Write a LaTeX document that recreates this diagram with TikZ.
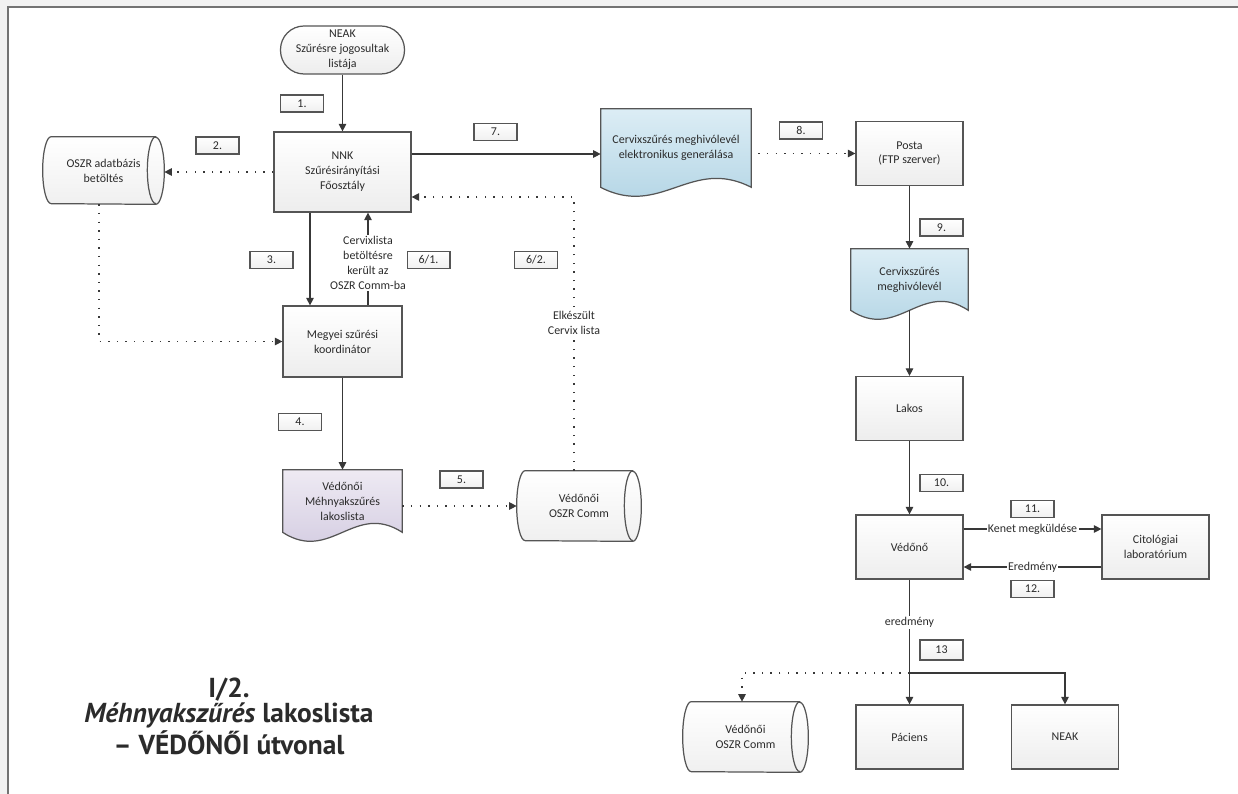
\documentclass[tikz,border=0pt]{standalone}
\usepackage{fontspec}
\setmainfont{Carlito}
\newfontfamily\titlefont{PT Sans}
\usetikzlibrary{arrows.meta,calc,backgrounds}

\definecolor{txt}{HTML}{2B2B2B}
\definecolor{edge}{HTML}{555555}
\definecolor{docblueA}{HTML}{DCEDF5}
\definecolor{docblueB}{HTML}{AED2E3}
\definecolor{doclilaA}{HTML}{EEEAF3}
\definecolor{doclilaB}{HTML}{D0C8DF}

\tikzset{
  every node/.style={font=\fontsize{6.8}{8.5}\selectfont, text=txt},
  proc/.style={draw=edge, line width=0.7pt, top color=white, bottom color=black!7,
    minimum width=2.14cm, minimum height=1.28cm, align=center, inner sep=1pt},
  term/.style={proc, rounded corners=0.47cm, minimum width=2.48cm, minimum height=0.96cm},
  stepno/.style={draw=edge, line width=0.6pt, top color=white, bottom color=black!6,
    minimum width=0.86cm, minimum height=0.34cm, inner sep=0pt},
  docbox/.style={align=center, inner sep=1pt},
  dbbox/.style={align=center, inner sep=1pt},
  shapeline/.style={draw=edge, line width=0.7pt},
  flow/.style={draw=black!78, line width=0.6pt, -{Triangle[length=0.15cm,width=0.15cm]}},
  dotflow/.style={flow, dash pattern=on 0.8pt off 4.1pt},
  lbl/.style={fill=white, inner sep=0.8pt, align=center}
}

% horizontal cylinder drawn round a named node: node, end radius, half height
\newcommand{\dbshape}[3]{%
  \draw[shapeline, top color=white, bottom color=black!6]
    ([xshift=-#2]#1.north east) -- ([xshift=#2]#1.north west)
    arc[start angle=90, end angle=270, x radius=#2, y radius=#3]
    -- ([xshift=-#2]#1.south east)
    arc[start angle=-90, end angle=90, x radius=#2, y radius=#3] -- cycle;
  \draw[shapeline] ([xshift=-#2]#1.north east)
    arc[start angle=90, end angle=270, x radius=#2, y radius=#3];}

% document with a wavy lower edge: node, top colour, bottom colour
\newcommand{\docshape}[3]{%
  \draw[shapeline, top color=#2, bottom color=#3]
    (#1.north west) -- (#1.north east) -- (#1.south east)
    .. controls ($(#1.south east)!0.4!(#1.south west)+(0,-31)$)
    and ($(#1.south west)!0.4!(#1.south east)+(0,31)$) .. (#1.south west) -- cycle;}

\begin{document}
\begin{tikzpicture}[x=0.02cm,y=-0.02cm]
\useasboundingbox (0,0) rectangle (1238,794);

% left column
\node[term] (neaktop) at (342.5,50) {NEAK\\Szűrésre jogosultak\\listája};
\node[proc, minimum width=2.74cm, minimum height=1.6cm] (nnk) at (342.5,172) {NNK\\Szűrésirányítási\\Főosztály};
\node[dbbox, minimum width=2.42cm, minimum height=1.34cm] (oszr) at (103.5,170.5) {OSZR adatbázis\\betöltés};
\node[proc, minimum width=2.38cm, minimum height=1.42cm] (megyei) at (342.5,341.5) {Megyei szűrési\\koordinátor};
\node[docbox, minimum width=2.38cm, minimum height=1.24cm] (lakoslista) at (342.5,501) {Védőnői\\Méhnyakszűrés\\lakoslista};
\node[dbbox, minimum width=2.48cm, minimum height=1.4cm] (commmid) at (579,506) {Védőnői\\OSZR Comm};

% right column
\node[docbox, minimum width=3cm, minimum height=1.56cm] (gen) at (676,148) {Cervixszűrés meghivólevél\\elektronikus generálása};
\node[proc] (posta) at (909.5,153.5) {Posta\\(FTP szerver)};
\node[docbox, minimum width=2.34cm, minimum height=1.22cm] (level) at (909.5,279.5) {Cervixszűrés\\meghivólevél};
\node[proc] (lakos) at (909.5,408.5) {Lakos};
\node[proc] (vedono) at (909.5,547) {Védőnő};
\node[proc] (cito) at (1155.5,547) {Citológiai\\laboratórium};
\node[proc] (paciens) at (909.5,737) {Páciens};
\node[proc] (neakbot) at (1065,737) {NEAK};
\node[dbbox, minimum width=2.5cm, minimum height=1.4cm] (commbot) at (745.5,737) {Védőnői\\OSZR Comm};

% step numbers
\node[stepno] (s1) at (302,103.5) {1.};
\node[stepno] (s2) at (217.5,145.5) {2.};
\node[stepno] (s3) at (271.5,260) {3.};
\node[stepno] (s4) at (300,422) {4.};
\node[stepno] (s5) at (461.5,479.5) {5.};
\node[stepno] (s61) at (428.5,260) {6/1.};
\node[stepno] (s62) at (536,260) {6/2.};
\node[stepno] (s7) at (495.5,132) {7.};
\node[stepno] (s8) at (801,130.5) {8.};
\node[stepno] (s9) at (941.5,227.5) {9.};
\node[stepno] (s10) at (941.5,483) {10.};
\node[stepno] (s11) at (1032.5,509) {11.};
\node[stepno] (s12) at (1032.5,589) {12.};
\node[stepno, minimum height=0.4cm] (s13) at (941.5,650) {13};

% title
\node[align=center, font=\titlefont\bfseries\fontsize{15.6}{14.6}\selectfont] (title) at (229,716)
  {I/2.\\\textit{Méhnyakszűrés} lakoslista\\– VÉDŐNŐI útvonal};

% page and shapes behind the texts
\begin{pgfonlayer}{background}
\fill[black!5] (0,0) rectangle (1238,794);
\fill[white] (8,7) rectangle (1238,794);
\draw[black!55, line width=1.1pt] (8,794) -- (8,7) -- (1238,7);
\dbshape{oszr}{0.17cm}{0.67cm}
\dbshape{commmid}{0.17cm}{0.7cm}
\dbshape{commbot}{0.17cm}{0.7cm}
\docshape{gen}{docblueA}{docblueB}
\docshape{level}{docblueA}{docblueB}
\docshape{lakoslista}{doclilaA}{doclilaB}
\end{pgfonlayer}

% connectors
\draw[flow] (neaktop) -- (nnk);
\draw[dotflow] (nnk.west) -- (nnk.west -| oszr.east);
\draw[dotflow] ([xshift=-0.09cm]oszr.south) |- (megyei.west);
\draw[flow] ([xshift=-0.65cm]nnk.south) -- ([xshift=-0.65cm]nnk.south |- megyei.north);
\draw[flow] ([xshift=0.51cm]megyei.north) -- ([xshift=0.51cm]megyei.north |- nnk.south)
  node[lbl, pos=0.46] {Cervixlista\\betöltésre\\került az\\OSZR Comm-ba};
\draw[dotflow] ([xshift=-0.1cm]commmid.north) |- ([yshift=-0.5cm]nnk.east)
  node[lbl, pos=0.27] {Elkészült\\Cervix lista};
\draw[flow] ([yshift=0.36cm]nnk.east) -- ([yshift=0.36cm]nnk.east -| gen.west);
\draw[dotflow] ([xshift=0.14cm]gen.east |- posta.west) -- (posta.west);
\draw[flow] (posta) -- (level);
\draw[flow] (level.south) -- (lakos.north);
\draw[flow] (lakos) -- (vedono);
\draw[flow] ([yshift=0.36cm]vedono.east) -- ([yshift=0.36cm]vedono.east -| cito.west)
  node[lbl, midway] {Kenet megküldése};
\draw[flow] ([yshift=-0.4cm]cito.west) -- ([yshift=-0.4cm]cito.west -| vedono.east)
  node[lbl, midway] {Eredmény};
\draw[flow] (vedono) -- (paciens) node[lbl, pos=0.34] {eredmény};
\coordinate (split) at (909.5,673);
\draw[flow] (split) -| (neakbot.north);
\draw[dotflow] (split) -| ([xshift=-0.07cm]commbot.north);
\draw[flow] (megyei) -- (lakoslista);
\draw[dotflow] (lakoslista.east |- commmid.west) -- (commmid.west);
\end{tikzpicture}
\end{document}
